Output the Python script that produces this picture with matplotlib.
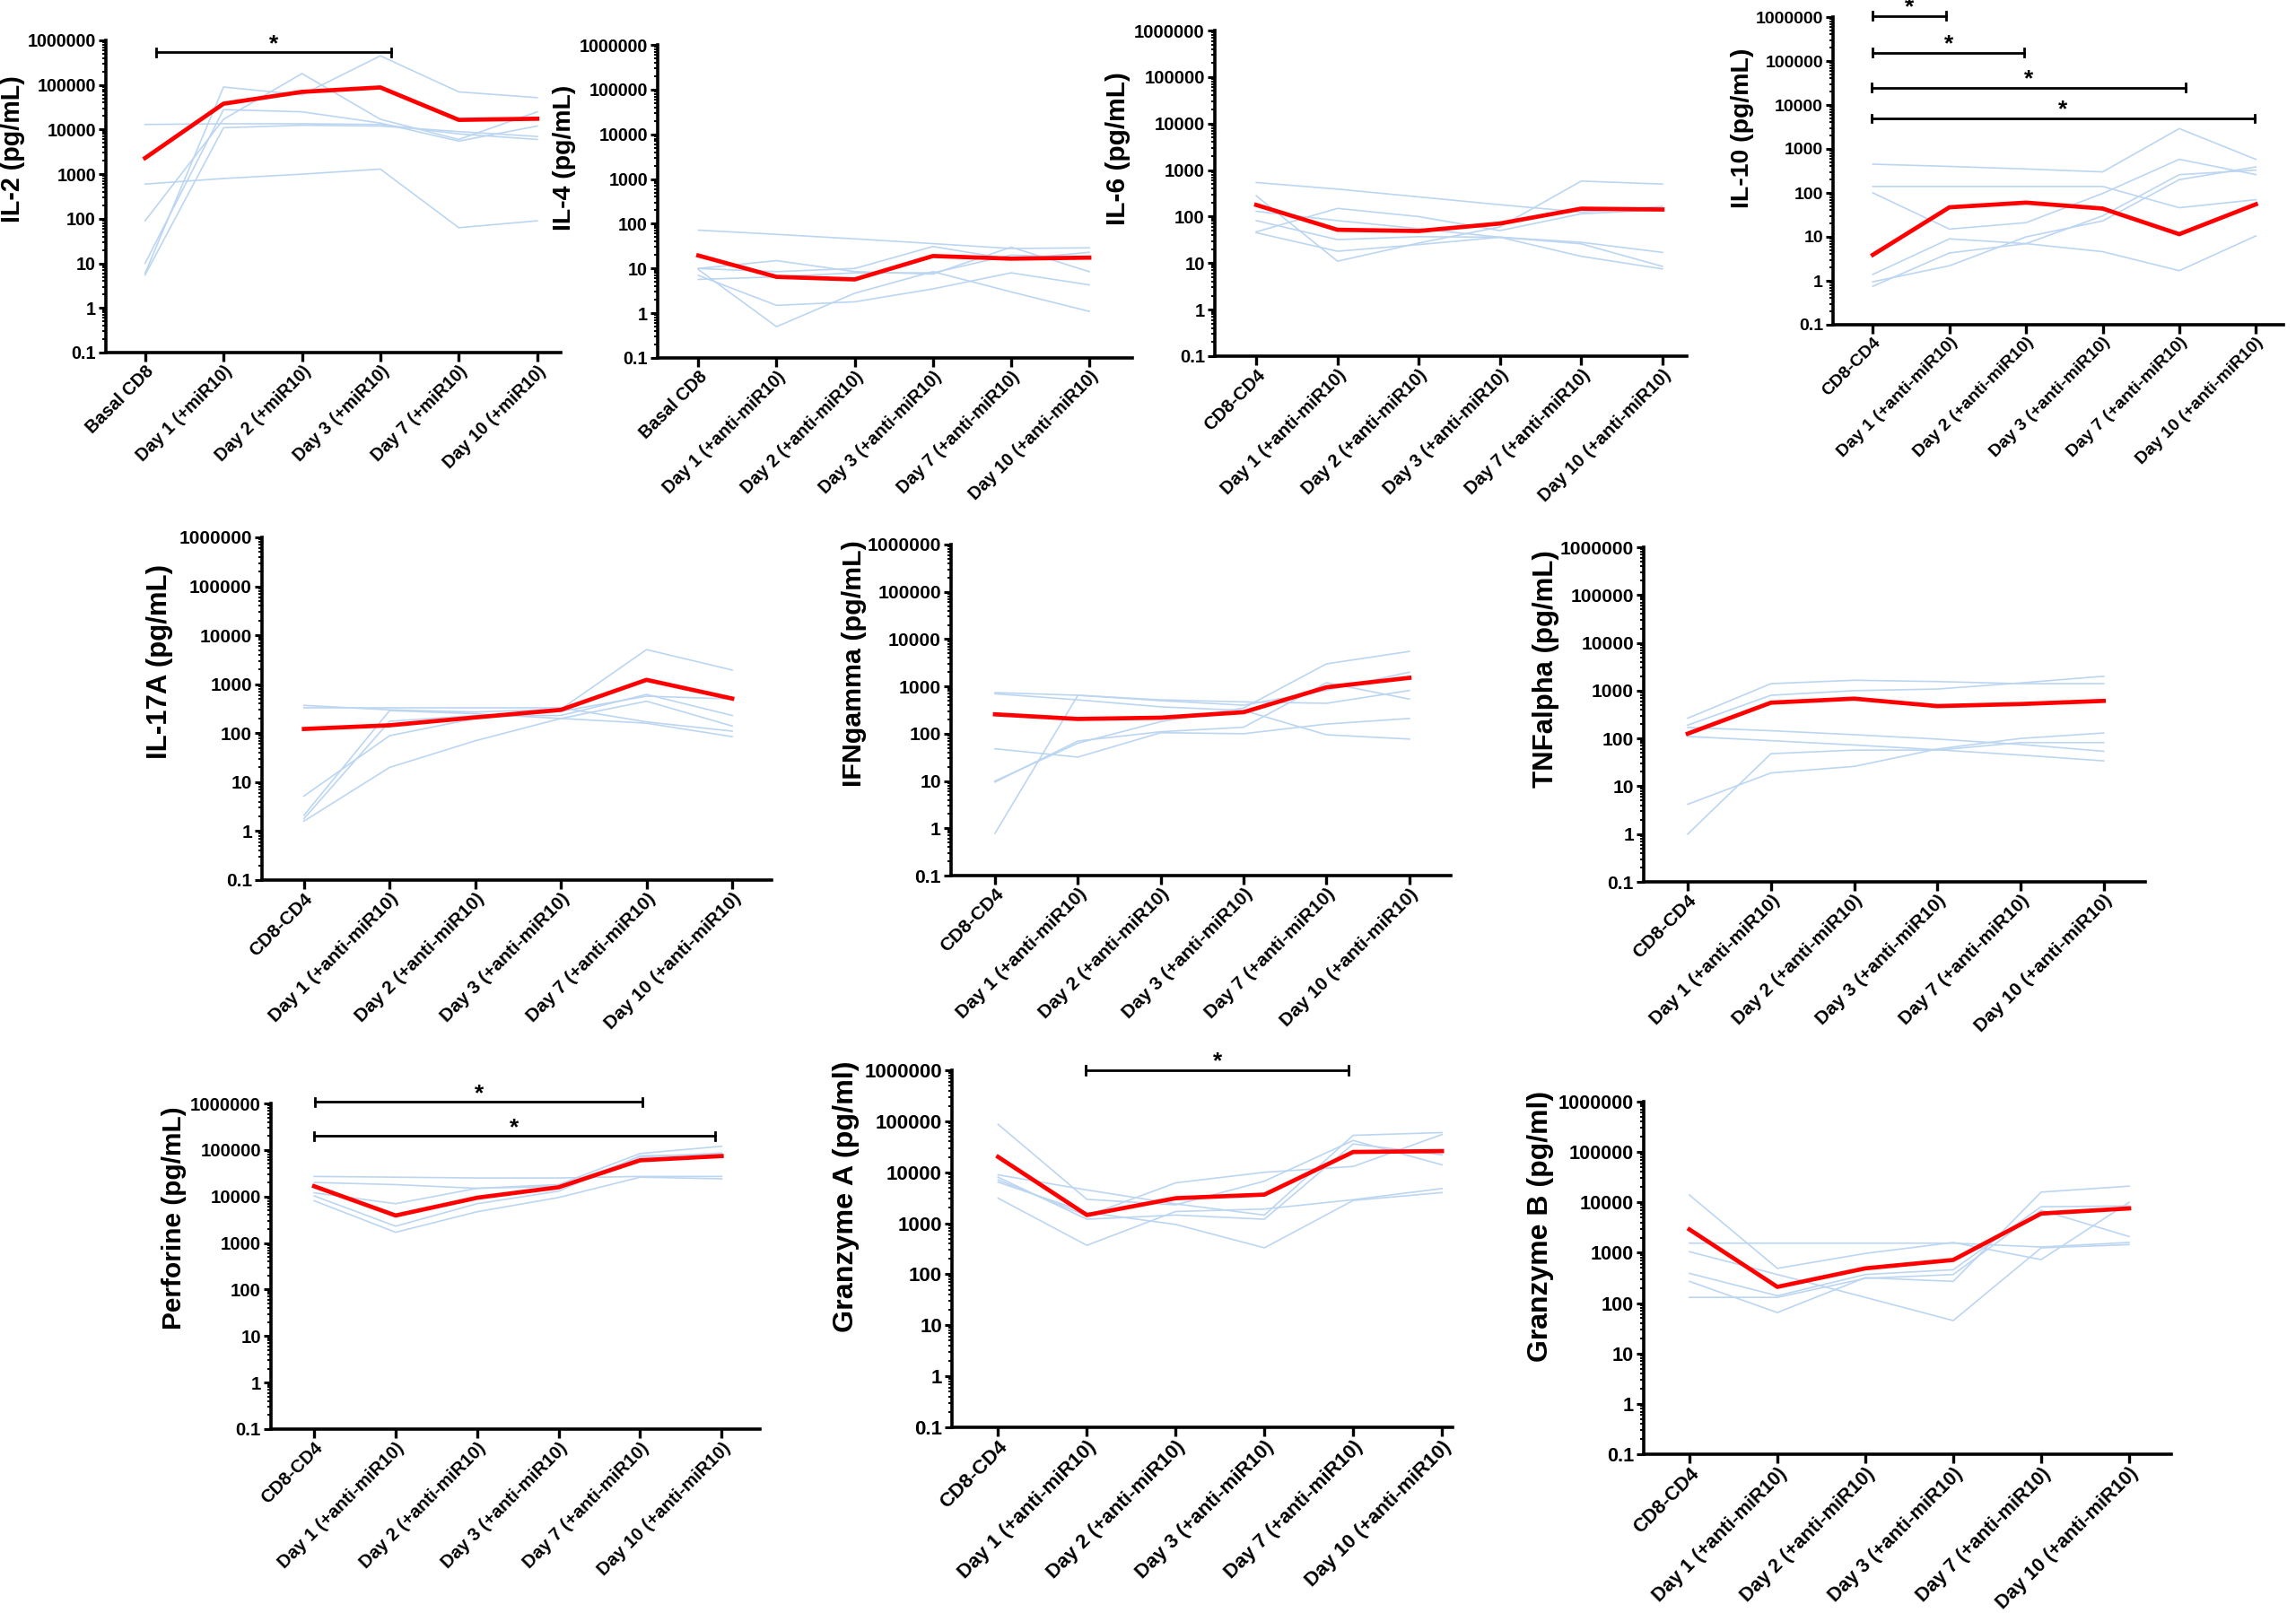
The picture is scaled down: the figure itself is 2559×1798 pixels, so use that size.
import matplotlib
matplotlib.use("Agg")
import matplotlib.pyplot as plt
from matplotlib.ticker import LogLocator, NullFormatter

plt.rcParams['font.family'] = ['Liberation Sans', 'DejaVu Sans']
plt.rcParams['font.weight'] = 'bold'

W, H = 2559, 1798
BLUE = '#bcd6f2'
RED = '#ff0000'

# x categories
cats_mir = ['Basal CD8', 'Day 1 (+miR10)', 'Day 2 (+miR10)', 'Day 3 (+miR10)',
            'Day 7 (+miR10)', 'Day 10 (+miR10)']
cats_basal_anti = ['Basal CD8', 'Day 1 (+anti-miR10)', 'Day 2 (+anti-miR10)',
                   'Day 3 (+anti-miR10)', 'Day 7 (+anti-miR10)', 'Day 10 (+anti-miR10)']
cats_anti = ['CD8-CD4', 'Day 1 (+anti-miR10)', 'Day 2 (+anti-miR10)',
             'Day 3 (+anti-miR10)', 'Day 7 (+anti-miR10)', 'Day 10 (+anti-miR10)']

yticks = [0.1, 1, 10, 100, 1000, 10000, 100000, 1000000]
ytick_labels = ['0.1', '1', '10', '100', '1000', '10000', '100000', '1000000']

# IL-2
il2_mean = [2300, 38000, 70000, 88000, 16500, 17500]
il2_donors = [
    [13000, 13500, 13500, 13000, 8000, 6000],
    [600, 800, 1000, 1300, 63, 90],
    [90, 17000, 180000, 17000, 6000, 25000],
    [10, 28000, 25000, 14000, 5500, 12000],
    [6, 90000, 60000, 450000, 70000, 52000],
    [5.5, 11000, 12500, 12000, 9000, 7000],
]
# IL-4
il4_mean = [19.5, 6.5, 5.7, 19, 16.6, 17.5]
il4_donors = [
    [72, 58, 46, 36, 28, 29],
    [10, 15, 8.5, 7.5, 30, 8.5],
    [10, 8.5, 10, 31, 16, 23],
    [7, 1.5, 1.8, 3.5, 8, 4.3],
    [9.5, 0.5, 2.8, 8.5, 3, 1.1],
    [5.7, 6.5, 8, 8, 20, 17],
]
# IL-6
il6_mean = [178, 52, 49, 71, 148, 142]
il6_donors = [
    [540, 390, 265, 180, 125, 165],
    [280, 11, 27, 60, 580, 500],
    [130, 82, 55, 36, 28, 17],
    [82, 32, 37, 36, 26, 8.5],
    [45, 18, 25, 36, 14, 7.5],
    [47, 150, 100, 50, 115, 140],
]
# IL-10
il10_mean = [3.9, 47, 60, 44, 11.5, 55]
il10_donors = [
    [450, 400, 350, 300, 2900, 580],
    [140, 140, 140, 140, 46, 70],
    [100, 15, 21, 97, 580, 260],
    [1.4, 9, 7, 4.6, 1.7, 10.5],
    [0.95, 2.2, 10, 23, 200, 390],
    [0.75, 4.3, 7, 30, 260, 330],
]
# IL-17A
il17_mean = [122, 145, 210, 300, 1230, 510]
il17_donors = [
    [370, 300, 270, 310, 5100, 1950],
    [330, 330, 330, 330, 170, 110],
    [5.2, 89, 200, 280, 570, 500],
    [2.1, 290, 250, 200, 160, 85],
    [1.8, 175, 230, 230, 620, 230],
    [1.6, 20, 70, 200, 450, 140],
]
# IFNgamma
ifng_mean = [257, 205, 218, 285, 960, 1520]
ifng_donors = [
    [740, 650, 520, 470, 440, 820],
    [700, 520, 370, 310, 95, 77],
    [48, 32, 105, 100, 160, 210],
    [10, 63, 180, 350, 3000, 5500],
    [9.5, 70, 110, 137, 1200, 540],
    [0.78, 650, 500, 400, 830, 2000],
]
# TNFalpha
tnfa_mean = [126, 560, 680, 475, 525, 610]
tnfa_donors = [
    [265, 1400, 1650, 1550, 1400, 1400],
    [190, 800, 1000, 1080, 1450, 2000],
    [170, 145, 120, 97, 75, 54],
    [110, 90, 73, 58, 45, 34],
    [4.2, 19, 26, 60, 100, 130],
    [1, 48, 57, 57, 82, 82],
]
# Perforine
perf_mean = [16600, 3900, 9400, 15800, 60000, 74000]
perf_donors = [
    [27000, 26000, 25000, 25000, 27000, 27000],
    [20000, 18000, 15000, 18000, 84000, 120000],
    [12000, 7000, 15000, 16500, 70000, 86000],
    [10300, 2300, 7000, 13000, 75000, 80000],
    [8100, 1700, 4700, 9500, 26000, 24000],
]
# Granzyme A
gzma_mean = [20000, 1450, 3100, 3650, 25000, 26000]
gzma_donors = [
    [87000, 2950, 2300, 6700, 42000, 14000],
    [8900, 4500, 2400, 1450, 53000, 60000],
    [8000, 1200, 1450, 1200, 36000, 22000],
    [7100, 1400, 6200, 10000, 13000, 55000],
    [6400, 1630, 950, 330, 2800, 4000],
    [3100, 370, 1700, 1900, 2900, 4800],
]
# Granzyme B
gzmb_mean = [2900, 210, 490, 720, 6000, 7600]
gzmb_donors = [
    [14000, 490, 970, 1600, 730, 10000],
    [1550, 1550, 1550, 1550, 1300, 1600],
    [1050, 370, 130, 45, 1250, 1450],
    [390, 140, 370, 460, 8200, 8500],
    [270, 65, 320, 270, 16000, 21000],
    [130, 130, 310, 370, 7000, 2100],
]

# significance bars: (start category, end category, height)
il2_bars = [(0.14, 3.14, 5.4e5)]
il10_bars = [(0, 0.95, 1.07e6), (0, 1.98, 1.56e5), (-0.02, 4.08, 2.5e4), (-0.02, 4.98, 5000)]
perf_bars = [(0.01, 4.03, 1.09e6), (0, 4.92, 2.0e5)]
gzma_bars = [(0.99, 3.95, 1.0e6)]

fig = plt.figure(figsize=(W / 100, H / 100), dpi=100)


def panel(box, xlim, cats, mean, donors, ylabel, label_xy, fs, lfs, bars=()):
    left, right, top, bottom = box
    ax = fig.add_axes([left / W, 1 - bottom / H, (right - left) / W, (bottom - top) / H])
    x = list(range(len(cats)))
    for d in donors:
        ax.plot(x, d, color=BLUE, lw=1.2, zorder=2)
    ax.plot(x, mean, color=RED, lw=3.4, zorder=3)
    ax.set_yscale('log')
    ax.set_ylim(0.1, 1e6)
    ax.set_xlim(*xlim)
    ax.set_yticks(yticks, ytick_labels, fontsize=fs, fontweight='bold')
    ax.yaxis.set_minor_locator(LogLocator(base=10, subs=range(2, 10), numticks=20))
    ax.yaxis.set_minor_formatter(NullFormatter())
    ax.set_xticks(x, cats, rotation=45, ha='right', rotation_mode='anchor',
                  fontsize=fs, fontweight='bold')
    for s in ['top', 'right']:
        ax.spines[s].set_visible(False)
    for s in ['left', 'bottom']:
        ax.spines[s].set_linewidth(2.6)
    ax.tick_params(axis='y', which='major', length=6, width=2.2, pad=2)
    ax.tick_params(axis='y', which='minor', length=3, width=1.4)
    ax.tick_params(axis='x', which='major', length=7, width=2.4, pad=1)
    for x0, x1, yb in bars:
        ax.plot([x0, x1], [yb, yb], color='black', lw=2, clip_on=False, zorder=4)
        for xe in (x0, x1):
            ax.plot([xe, xe], [yb / 1.22, yb * 1.22], color='black', lw=2, clip_on=False, zorder=4)
        ax.annotate('*', ((x0 + x1) / 2, yb), xytext=(0, -2), textcoords='offset points',
                    ha='center', va='bottom', fontsize=19, fontweight='bold', annotation_clip=False)
    fig.text(label_xy[0] / W, 1 - label_xy[1] / H, ylabel, rotation=90, ha='center', va='center',
             fontsize=lfs, fontweight='bold')
    return ax


panel((118, 625, 45, 393), (-0.50, 5.30), cats_mir, il2_mean, il2_donors,
      'IL-2 (pg/mL)', (14, 166), 14.2, 20.6, il2_bars)
panel((733, 1262, 50, 399), (-0.52, 5.55), cats_basal_anti, il4_mean, il4_donors,
      'IL-4 (pg/mL)', (629, 176), 14.2, 20.4)
panel((1354, 1880, 34, 397), (-0.51, 5.30), cats_anti, il6_mean, il6_donors,
      'IL-6 (pg/mL)', (1246, 166), 14.6, 21.5)
panel((2043, 2545, 19, 362), (-0.52, 5.36), cats_anti, il10_mean, il10_donors,
      'IL-10 (pg/mL)', (1942, 143), 14.0, 20.5, il10_bars)
panel((292, 860, 599, 981), (-0.49, 5.46), cats_anti, il17_mean, il17_donors,
      'IL-17A (pg/mL)', (178, 738), 15.0, 22.4)
panel((1060, 1617, 607, 976), (-0.53, 5.50), cats_anti, ifng_mean, ifng_donors,
      'IFNgamma (pg/mL)', (952, 740), 15.2, 21.9)
panel((1832, 2391, 610, 983), (-0.53, 5.50), cats_anti, tnfa_mean, tnfa_donors,
      'TNFalpha (pg/mL)', (1723, 746), 15.1, 22.4)
panel((302, 847, 1230, 1593), (-0.53, 5.47), cats_anti, perf_mean, perf_donors,
      'Perforine (pg/mL)', (194, 1358), 14.7, 21.5, perf_bars)
panel((1061, 1619, 1193, 1591), (-0.52, 5.12), cats_anti, gzma_mean, gzma_donors,
      'Granzyme A (pg/ml)', (943, 1334), 16.1, 23.2, gzma_bars)
panel((1832, 2420, 1228, 1621), (-0.52, 5.48), cats_anti, gzmb_mean, gzmb_donors,
      'Granzyme B (pg/ml)', (1717, 1367), 15.6, 23.0)

fig.savefig('out.png', dpi=100)
